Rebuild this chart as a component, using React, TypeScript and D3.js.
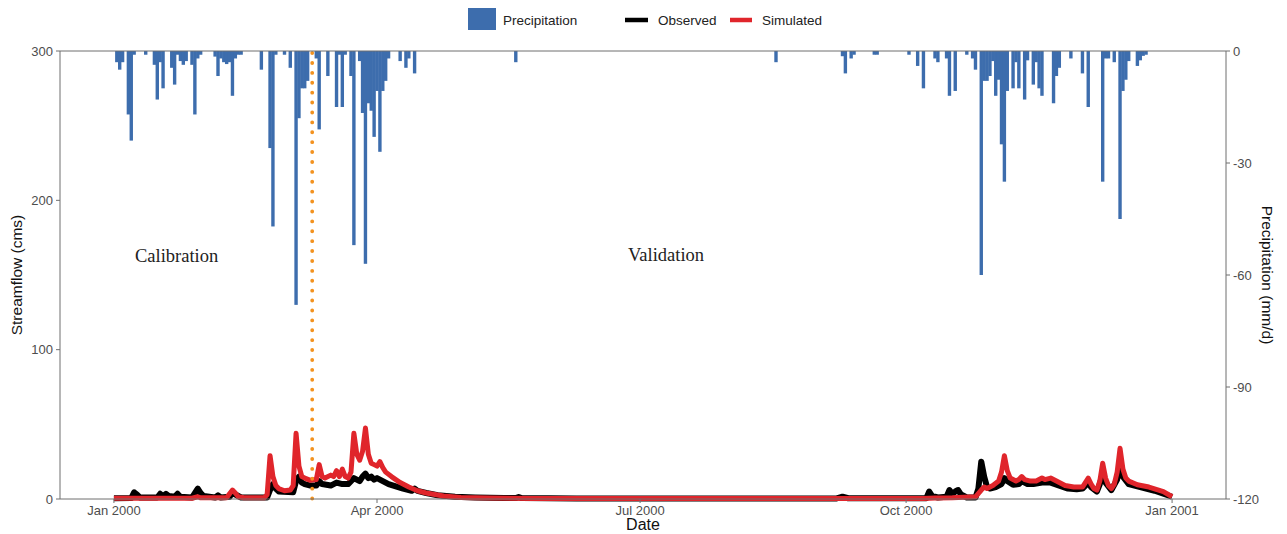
import React from "react";
import * as d3 from "d3";

const W = 1287;
const H = 534;
const margin = { top: 51, right: 61, bottom: 35, left: 60 };

const startDate = new Date(2000, 0, 1);
const endDate = new Date(2001, 0, 1);
// end of calibration period (dotted line)
const splitDate = new Date(2000, 2, 9, 14);

// [day of 2000 (0 = 1 Jan), mm/d]
const precipitation: [number, number][] = [
  [1, 3], [2, 5], [3, 3], [5, 17], [6, 24], [7, 1], [11, 1], [14, 3.7], [15, 13], [16, 3], [17, 10],
  [20, 4.5], [21, 9], [22, 1], [23, 2.7], [24, 3.7], [25, 2.7], [27, 3.7], [28, 17], [29, 2], [30, 1],
  [35, 1.5], [36, 6.7], [37, 2], [38, 3], [39, 3.5], [40, 3], [41, 12], [42, 2], [43, 1], [44, 1],
  [51, 5], [54, 26], [55, 47], [56, 1], [59, 1], [61, 4.5], [63, 68], [64, 18], [65, 10], [66, 10],
  [67, 8], [70, 2], [71, 21], [74, 6.7], [77, 15], [78, 1], [79, 15], [80, 1], [82, 6.7], [83, 52],
  [85, 2.7], [86, 16.6], [87, 57], [88, 14], [89, 16], [90, 23], [91, 10.7], [92, 27], [93, 10.7],
  [94, 8], [95, 2], [99, 2.7], [101, 4.5], [102, 2], [104, 6],
  [139, 3], [229, 3], [252, 1.4], [253, 6], [255, 2], [256, 1], [263, 1], [264, 1], [275, 1],
  [278, 4], [280, 10], [284, 2], [285, 3], [288, 2], [289, 12], [291, 10.7], [295, 1], [297, 2],
  [298, 5], [300, 60], [301, 8], [302, 8], [303, 6.7], [304, 2.7], [305, 12], [306, 7.7], [307, 25],
  [308, 35], [309, 10.7], [311, 10], [312, 3], [313, 10], [315, 13], [316, 2.5], [318, 9], [319, 3],
  [320, 10], [321, 12], [325, 14], [326, 6.7], [327, 4.5], [331, 2], [335, 6], [337, 15], [342, 35],
  [343, 2], [344, 2], [346, 3], [348, 45], [349, 10.7], [350, 7.7], [351, 2.7], [354, 4], [355, 2.5],
  [356, 1.3], [357, 1],
];

// [day of 2000, cms]
const observed: [number, number][] = [
  [0, 0.5], [6, 0.6], [7, 4.5], [8, 3], [9, 1], [15, 1], [16, 3.5], [17, 2], [18, 3.5], [19, 2],
  [21, 1.5], [22, 3.5], [23, 1.5], [27, 1], [28, 4], [29, 7], [30, 4], [31, 2], [35, 1], [36, 2.5],
  [37, 1], [40, 1.5], [41, 4.5], [42, 3], [44, 1], [53, 1], [54, 6], [55, 10], [56, 7], [57, 5],
  [62, 4.5], [63, 12], [64, 15], [65, 11], [66, 10], [68, 9], [70, 9], [71, 12], [72, 10], [75, 9],
  [77, 11], [79, 10], [81, 10], [83, 14], [85, 12], [86, 15], [87, 17], [88, 14], [89, 15], [90, 13],
  [91, 14], [92, 13], [95, 10], [100, 7], [103, 5.5], [104, 7], [105, 5.5], [108, 4], [112, 2.5],
  [118, 1.5], [125, 1], [135, 0.6], [139, 0.6], [140, 1.3], [141, 0.6], [160, 0.4], [250, 0.4],
  [252, 1.5], [254, 0.5], [281, 0.5], [282, 5], [283, 2], [285, 1], [288, 1.5], [289, 6], [290, 3.5],
  [291, 5], [292, 6], [293, 3], [295, 1], [298, 1], [299, 7], [300, 25], [301, 15], [302, 8], [303, 7],
  [305, 8], [307, 10], [308, 14], [309, 12], [311, 9.5], [313, 10], [314, 12], [316, 10], [318, 10],
  [321, 11], [324, 11], [327, 9], [330, 7], [333, 6.5], [335, 7], [337, 11], [338, 8], [340, 5],
  [341, 10], [342, 17], [343, 11], [345, 6], [347, 13], [348, 24], [349, 15], [351, 10], [355, 8],
  [360, 5.5], [366, 1.5],
];

const simulated: [number, number][] = [
  [0, 0.5], [27, 0.5], [28, 1], [29, 1.5], [30, 0.8], [39, 0.8], [40, 3.5], [41, 6], [42, 4],
  [43, 1.5], [45, 0.8], [52, 0.8], [53, 3], [54, 29], [55, 15], [56, 9], [57, 7], [59, 5.5], [61, 6],
  [62, 9], [63, 44], [64, 22], [65, 15], [66, 14], [68, 12.5], [70, 13], [71, 23], [72, 15], [73, 14],
  [75, 16], [76, 15], [77, 19], [78, 15], [79, 20], [80, 15], [81, 14], [82, 18], [83, 44], [84, 30],
  [85, 26], [86, 32], [87, 47.5], [88, 30], [89, 24], [90, 23], [91, 22], [92, 25], [93, 21], [94, 18],
  [96, 15], [99, 11], [102, 8], [105, 5.5], [108, 4], [111, 3], [114, 2], [120, 1], [130, 0.6],
  [145, 0.4], [280, 0.4], [284, 0.7], [290, 0.8], [298, 1.5], [300, 6], [301, 8], [302, 7], [304, 9],
  [306, 12], [307, 18], [308, 29], [309, 19], [310, 14], [312, 12], [313, 13], [314, 15], [315, 13],
  [317, 12], [319, 12], [321, 14], [322, 13], [324, 14], [325, 13], [327, 11], [329, 9], [332, 8],
  [335, 8], [336, 11], [337, 14], [338, 10], [339, 7], [340, 6], [341, 12], [342, 24], [343, 14],
  [344, 9], [345, 7], [346, 10], [347, 18], [348, 34], [349, 20], [350, 14], [351, 12], [354, 9.5],
  [358, 8], [363, 5], [366, 1.5],
];

const flowTicks = [0, 100, 200, 300];
const precipTicks = [0, -30, -60, -90, -120];
const dateTicks = [
  new Date(2000, 0, 1),
  new Date(2000, 3, 1),
  new Date(2000, 6, 1),
  new Date(2000, 9, 1),
  new Date(2001, 0, 1),
];

const sans = "'Liberation Sans', Arial, sans-serif";
const serif = "'Liberation Serif', 'Times New Roman', serif";
const axisColor = "#6f6f6f";
const tickText = "#4d4d4d";
const blue = "#3d6dad";
const red = "#e0252b";
const orange = "#f3921f";

export default function App() {
  const dayOf = (d: number) => d3.timeDay.offset(startDate, d);
  const pad = 18.65 * 864e5;

  const x = d3
    .scaleTime()
    .domain([new Date(+startDate - pad), new Date(+endDate + pad)])
    .range([margin.left, W - margin.right]);
  const yFlow = d3.scaleLinear().domain([0, 300]).range([H - margin.bottom, margin.top]);
  const yPrecip = d3.scaleLinear().domain([-120, 0]).range([H - margin.bottom, margin.top]);

  // one day wide, with a hair of overlap so neighbouring days read as a solid block
  const barW = x(dayOf(1)) - x(dayOf(0)) + 0.5;

  const line = d3
    .line<[number, number]>()
    .x((d) => x(dayOf(d[0])))
    .y((d) => yFlow(d[1]));

  const x0 = margin.left;
  const x1 = W - margin.right;
  const yTop = margin.top;
  const yBot = H - margin.bottom;
  const midY = (yTop + yBot) / 2;

  return (
    <svg
      width={W}
      height={H}
      style={{ position: "absolute", left: 0, top: 0, background: "#fff" }}
    >
      {/* precipitation bars hanging from the top */}
      <g fill={blue}>
        {precipitation.map(([d, p], i) => (
          <rect
            key={i}
            x={x(dayOf(d)) - barW / 2}
            y={yPrecip(0)}
            width={barW}
            height={yPrecip(-p) - yPrecip(0)}
          />
        ))}
      </g>

      {/* streamflow */}
      <path d={line(observed) ?? ""} fill="none" stroke="#000" strokeWidth={6} strokeLinejoin="round" />
      <path d={line(simulated) ?? ""} fill="none" stroke={red} strokeWidth={5} strokeLinejoin="round" />

      {/* calibration / validation split */}
      <line
        x1={x(splitDate)}
        x2={x(splitDate)}
        y1={yTop + 2}
        y2={yBot}
        stroke={orange}
        strokeWidth={3.8}
        strokeLinecap="round"
        strokeDasharray="0.1 9.8"
      />

      <text x={135} y={262} fontFamily={serif} fontSize={18.5} fill="#222">Calibration</text>
      <text x={628} y={261} fontFamily={serif} fontSize={18.5} fill="#222">Validation</text>

      {/* axes frame */}
      <g stroke={axisColor} strokeWidth={1}>
        <line x1={x0} x2={x1} y1={yTop} y2={yTop} />
        <line x1={x0} x2={x1} y1={yBot} y2={yBot} />
        <line x1={x0} x2={x0} y1={yTop} y2={yBot} />
        <line x1={x1} x2={x1} y1={yTop} y2={yBot} />
      </g>

      {/* left axis */}
      {flowTicks.map((t) => (
        <g key={t} transform={`translate(0,${yFlow(t)})`}>
          <line x1={x0 - 4} x2={x0} stroke={axisColor} />
          <text x={x0 - 7} dy="0.35em" textAnchor="end" fontFamily={sans} fontSize={13} fill={tickText}>
            {t}
          </text>
        </g>
      ))}

      {/* right axis */}
      {precipTicks.map((t) => (
        <g key={t} transform={`translate(0,${yPrecip(t)})`}>
          <line x1={x1} x2={x1 + 4} stroke={axisColor} />
          <text x={x1 + 7} dy="0.35em" fontFamily={sans} fontSize={13} fill={tickText}>
            {t}
          </text>
        </g>
      ))}

      {/* bottom axis */}
      {dateTicks.map((t, i) => (
        <g key={i} transform={`translate(${x(t)},0)`}>
          <line y1={yBot} y2={yBot + 4} stroke={axisColor} />
          <text y={yBot + 16} textAnchor="middle" fontFamily={sans} fontSize={13} fill={tickText}>
            {d3.timeFormat("%b %Y")(t)}
          </text>
        </g>
      ))}

      {/* axis titles */}
      <text x={(x0 + x1) / 2} y={530} textAnchor="middle" fontFamily={sans} fontSize={16} fill="#111">
        Date
      </text>
      <text
        transform={`translate(22,${midY}) rotate(-90)`}
        textAnchor="middle"
        fontFamily={sans}
        fontSize={15.5}
        fill="#111"
      >
        Streamflow (cms)
      </text>
      <text
        transform={`translate(1262,${midY}) rotate(90)`}
        textAnchor="middle"
        fontFamily={sans}
        fontSize={15.5}
        fill="#111"
      >
        Precipitation (mm/d)
      </text>

      {/* legend */}
      <g fontFamily={sans} fontSize={13.5} fill="#222">
        <rect x={468} y={8} width={28} height={22} fill={blue} />
        <text x={503} y={24.5}>Precipitation</text>
        <line x1={625} x2={648} y1={20} y2={20} stroke="#000" strokeWidth={4.5} />
        <text x={658} y={24.5}>Observed</text>
        <line x1={730} x2={752} y1={20} y2={20} stroke={red} strokeWidth={4.5} />
        <text x={762} y={24.5}>Simulated</text>
      </g>
    </svg>
  );
}
